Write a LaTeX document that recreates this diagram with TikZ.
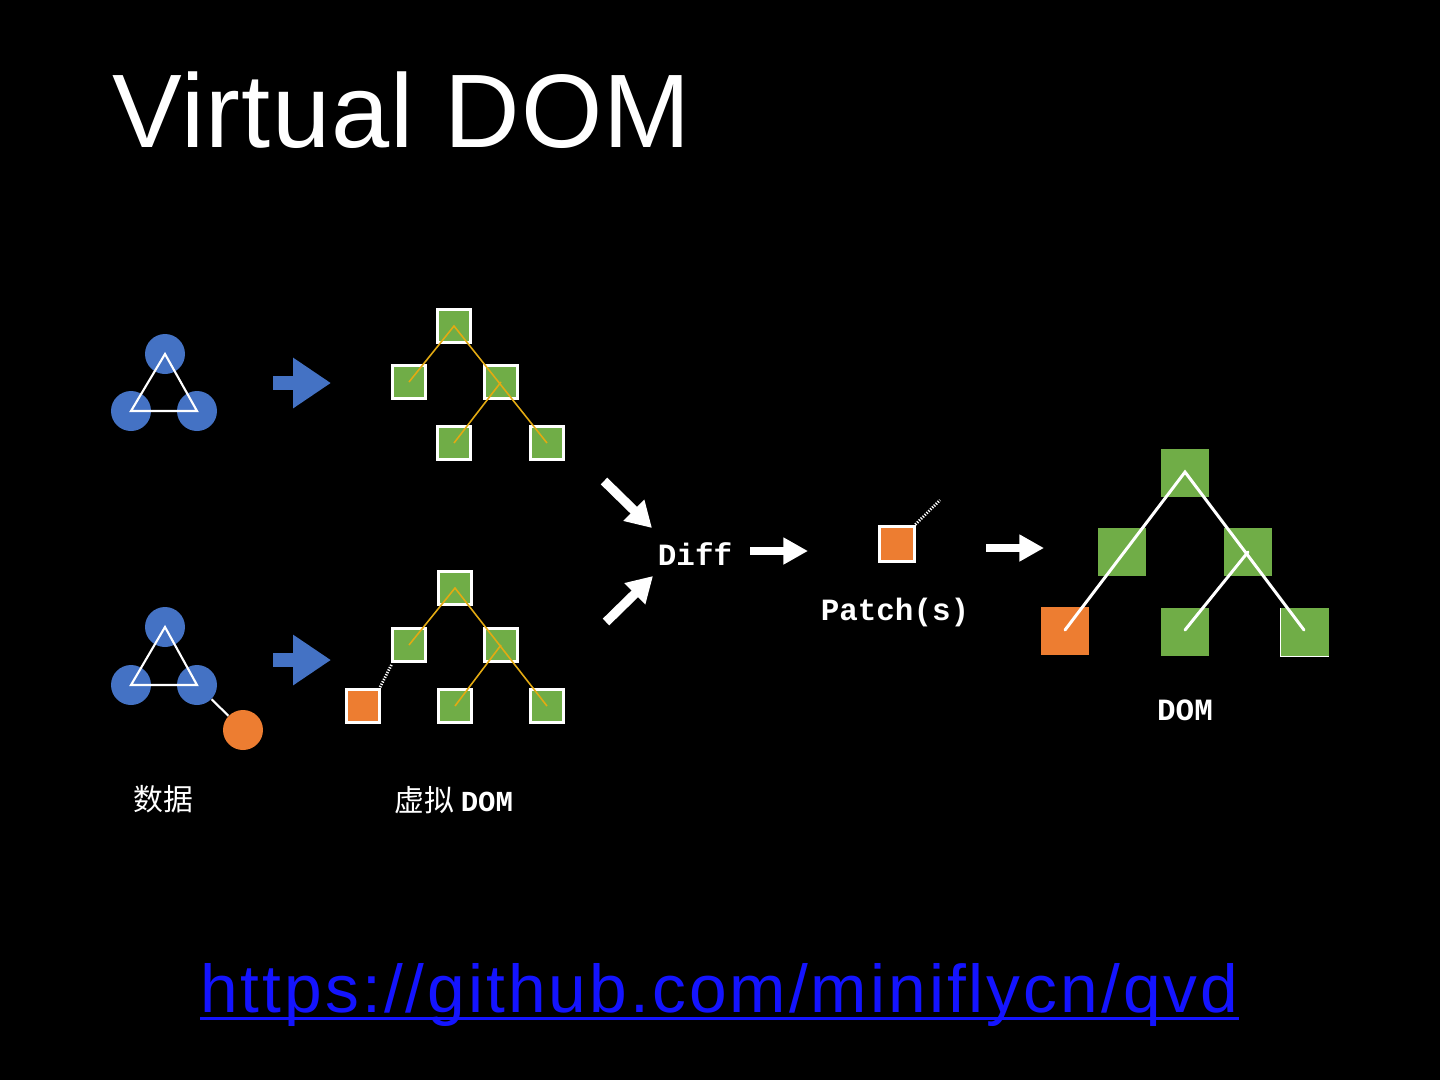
\documentclass[tikz,border=0pt]{standalone}
\usepackage{fontspec}
\setmainfont{Liberation Sans}
\setmonofont{Liberation Mono}
\newfontfamily\cjk{Noto Sans CJK SC}
\newfontfamily\urlfont[LetterSpace=4.5]{Liberation Sans}
\newfontfamily\titlefont[LetterSpace=1.2]{Liberation Sans}
\usetikzlibrary{arrows.meta}
\definecolor{blueC}{HTML}{4472C4}
\definecolor{greenC}{HTML}{70AD47}
\definecolor{orangeC}{HTML}{ED7D31}
\definecolor{goldC}{HTML}{E3AA12}
\definecolor{linkC}{RGB}{20,20,255}
\tikzset{
  blob/.style={circle,fill=blueC,minimum size=0.8cm,inner sep=0pt},
  orb/.style={circle,fill=orangeC,minimum size=0.8cm,inner sep=0pt},
  vsq/.style={rectangle,fill=greenC,draw=white,line width=1.7pt,minimum size=0.66cm,inner sep=0pt},
  vsqo/.style={vsq,fill=orangeC},
  dsq/.style={rectangle,fill=greenC,minimum size=0.95cm,inner sep=0pt},
  dsqo/.style={dsq,fill=orangeC},
  yline/.style={draw=goldC,line width=0.9pt},
  wline/.style={draw=white,line width=1.7pt,line cap=round},
  tri/.style={draw=white,line width=1.2pt},
  dotline/.style={draw=white,line width=1.6pt,dash pattern=on 0.7pt off 0.8pt},
  bluearrow/.style={draw=blueC,line width=8.5pt,-{Triangle[width=27.2pt,length=21.5pt]}},
  whitearrow/.style={draw=white,line width=5.1pt,-{Triangle[width=14.5pt,length=14pt]}},
  diagarrow/.style={draw=white,line width=5.3pt,-{Triangle[width=16pt,length=14.5pt]}},
  monotext/.style={text=white,font=\ttfamily\bfseries\fontsize{17.6}{20}\selectfont,inner sep=0pt},
  cjktext/.style={text=white,font=\cjk\fontsize{17}{20}\selectfont,inner sep=0pt}
}
\begin{document}
\begin{tikzpicture}[x=0.02cm,y=-0.02cm]
\fill[black] (0,0) rectangle (1440,1080);
\useasboundingbox (0,0) rectangle (1440,1080);

% title
\node[anchor=base west,inner sep=0pt,text=white,font=\titlefont\fontsize{59.5}{70}\selectfont] (title) at (112,147) {Virtual DOM};

% data groups
\node[blob] (a1) at (165,354) {};
\node[blob] (a2) at (131,411) {};
\node[blob] (a3) at (197,411) {};
\draw[tri] (a1.center) -- (a2.center) -- (a3.center) -- cycle;

\node[orb] (bo) at (243,730) {};
\node[blob] (b1) at (165,627) {};
\node[blob] (b2) at (131,685) {};
\node[blob] (b3) at (197,685) {};
\draw[tri] (b1.center) -- (b2.center) -- (b3.center) -- cycle;
\draw[tri] (b3) -- (bo);

% blue arrows
\coordinate (ba1s) at (273,383); \coordinate (ba1e) at (331,383);
\coordinate (ba2s) at (273,660); \coordinate (ba2e) at (331,660);
\draw[bluearrow] (ba1s) -- (ba1e);
\draw[bluearrow] (ba2s) -- (ba2e);

% virtual tree 1
\node[vsq] (t1) at (454,326) {};
\node[vsq] (t2) at (409,382) {};
\node[vsq] (t3) at (501,382) {};
\node[vsq] (t4) at (454,443) {};
\node[vsq] (t5) at (547,443) {};
\draw[yline] (t2.center) -- (t1.center) -- (t5.center);
\draw[yline] (t3.center) -- (t4.center);

% virtual tree 2
\node[vsq] (u1) at (455,588) {};
\node[vsq] (u2) at (409,645) {};
\node[vsq] (u3) at (501,645) {};
\node[vsqo] (u6) at (363,706) {};
\node[vsq] (u4) at (455,706) {};
\node[vsq] (u5) at (547,706) {};
\draw[yline] (u2.center) -- (u1.center) -- (u5.center);
\draw[yline] (u3.center) -- (u4.center);
\draw[dotline] ([shift={(-0.5pt,0.5pt)}]u6.north east) -- ([shift={(0.5pt,-0.5pt)}]u2.south west);

% labels
\node[cjktext] (l1) at (163,799) {数据};
\node[cjktext,anchor=west] (l2) at (394,800) {虚拟 {\ttfamily\bfseries\fontsize{16.5}{20}\selectfont DOM}};

% diff
\node[monotext] (diff) at (695,554) {Diff};
\coordinate (d1s) at (604,481); \coordinate (d1e) at (652,528);
\coordinate (d2s) at (606,622); \coordinate (d2e) at (653,576);
\draw[diagarrow] (d1s) -- (d1e);
\draw[diagarrow] (d2s) -- (d2e);
\coordinate (d3s) at (750,551); \coordinate (d3e) at (808,551);
\draw[whitearrow] (d3s) -- (d3e);

% patch
\node[vsq,fill=orangeC,minimum size=0.7cm] (p) at (897,544) {};
\coordinate (pend) at (940,500);
\draw[dotline] ([shift={(-0.3pt,0.3pt)}]p.north east) -- (pend);
\node[monotext] (patch) at (895,612) {Patch(s)};
\coordinate (p2s) at (986,548); \coordinate (p2e) at (1044,548);
\draw[whitearrow] (p2s) -- (p2e);

% DOM tree
\node[dsq] (r1) at (1185,473) {};
\node[dsq] (r2) at (1122,552) {};
\node[dsq] (r3) at (1248,552) {};
\node[dsqo] (r4) at (1065,631) {};
\node[dsq] (r5) at (1185,632) {};
\node[dsq] (r6) at (1305,632) {};
\draw[white,line width=0.6pt] (r6.north west) -- (r6.south west) -- (r6.south east);
\coordinate (rt) at (1185,472);
\coordinate (rl) at (1065,630);
\coordinate (rr) at (1304,630);
\coordinate (rm) at (1185,630);
\draw[wline] (rl) -- (rt) -- (rr);
\draw[wline] (r3.center) -- (rm);
\node[monotext] (dom) at (1185,710) {DOM};

% url
\node[anchor=base west,inner sep=0pt,text=linkC,font=\urlfont\fontsize{38.5}{48}\selectfont] (url) at (200,1012) {https://github.com/miniflycn/qvd};
\draw[linkC,line width=1.7pt] ([yshift=-3.6pt]url.base west) -- ([yshift=-3.6pt]url.base east);
\end{tikzpicture}
\end{document}
